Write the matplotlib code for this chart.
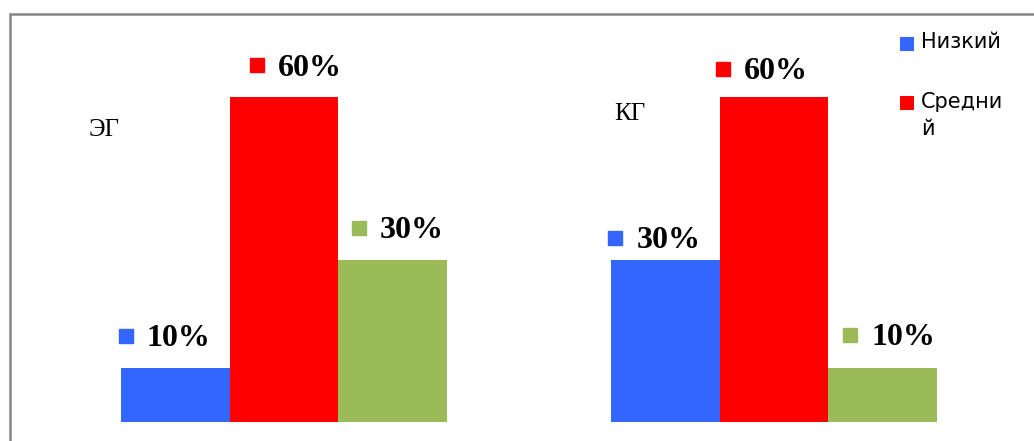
import matplotlib
matplotlib.use("Agg")
import matplotlib.pyplot as plt
from matplotlib.patches import Rectangle
import matplotlib.transforms as mtransforms

groups = ["ЭГ", "КГ"]
levels = ["Низкий", "Средний", "Высокий"]
values = {
    "ЭГ": [10, 60, 30],
    "КГ": [30, 60, 10],
}
legend_labels = ["Низкий", "Средни\nй"]

colors = ["#3366FF", "#FF0000", "#9BBB59"]

W, H = 1034, 441
fig = plt.figure(figsize=(W / 100, H / 100), dpi=100)
ax = fig.add_axes([0, 0, 1, 1])
ax.set_axis_off()

# scale: groups 490 px apart, centers at px 284 / 774
px_per_unit = 490.0
x0_px = 284.0
ax.set_xlim(-x0_px / px_per_unit, (W - x0_px) / px_per_unit)
px_per_pct = 325.0 / 60.0
base_px = 19.0
ax.set_ylim(-base_px / px_per_pct, (H - base_px) / px_per_pct)

bw = 108.5 / px_per_unit

# label offsets (pixels): square x offset from bar left, height above bar top
lab_dx = {"ЭГ": [4.5, 27, 20.5], "КГ": [4, 3, 22]}
lab_dy = {"ЭГ": [32, 32, 32], "КГ": [22, 28.5, 33]}

for gi, g in enumerate(groups):
    for li in range(3):
        xc = gi + (li - 1) * bw
        v = values[g][li]
        ax.bar(xc, v, width=bw, color=colors[li], edgecolor="none", zorder=2)
        left = xc - bw / 2
        tr_sq = mtransforms.offset_copy(ax.transData, fig=fig,
                                        x=lab_dx[g][li], y=lab_dy[g][li], units="dots")
        ax.plot([left], [v], marker="s", markersize=10.3, color=colors[li],
                linestyle="none", transform=tr_sq, zorder=3)
        tr_tx = mtransforms.offset_copy(ax.transData, fig=fig,
                                        x=lab_dx[g][li] + 21, y=lab_dy[g][li] - 3, units="dots")
        ax.text(left, v, f"{v}%", transform=tr_tx, ha="left", va="center",
                fontsize=23, fontweight="bold", family="Liberation Serif", zorder=3)

# group labels
fig.text(89 / W, 1 - 130 / H, groups[0], ha="left", va="center",
         fontsize=18, family="Liberation Serif")
fig.text(614 / W, 1 - 114 / H, groups[1], ha="left", va="center",
         fontsize=18, family="Liberation Serif")

# legend
leg_y = [43.5, 102.5]
for i, lab in enumerate(legend_labels):
    fig.patches.append(Rectangle((900 / W, 1 - (leg_y[i] + 7) / H), 14 / W, 14 / H,
                                 transform=fig.transFigure, facecolor=colors[i],
                                 edgecolor="none"))
    fig.text(921 / W, 1 - (leg_y[i] - 11) / H, lab, ha="left", va="top",
             fontsize=15, family="DejaVu Sans", linespacing=1.45)

# outer border
fig.patches.append(Rectangle((9.5 / W, -0.1), 1.2, 1 - 13.5 / H + 0.1,
                             transform=fig.transFigure, facecolor="none",
                             edgecolor="#878787", linewidth=1.8))

fig.savefig("out.png", dpi=100)
